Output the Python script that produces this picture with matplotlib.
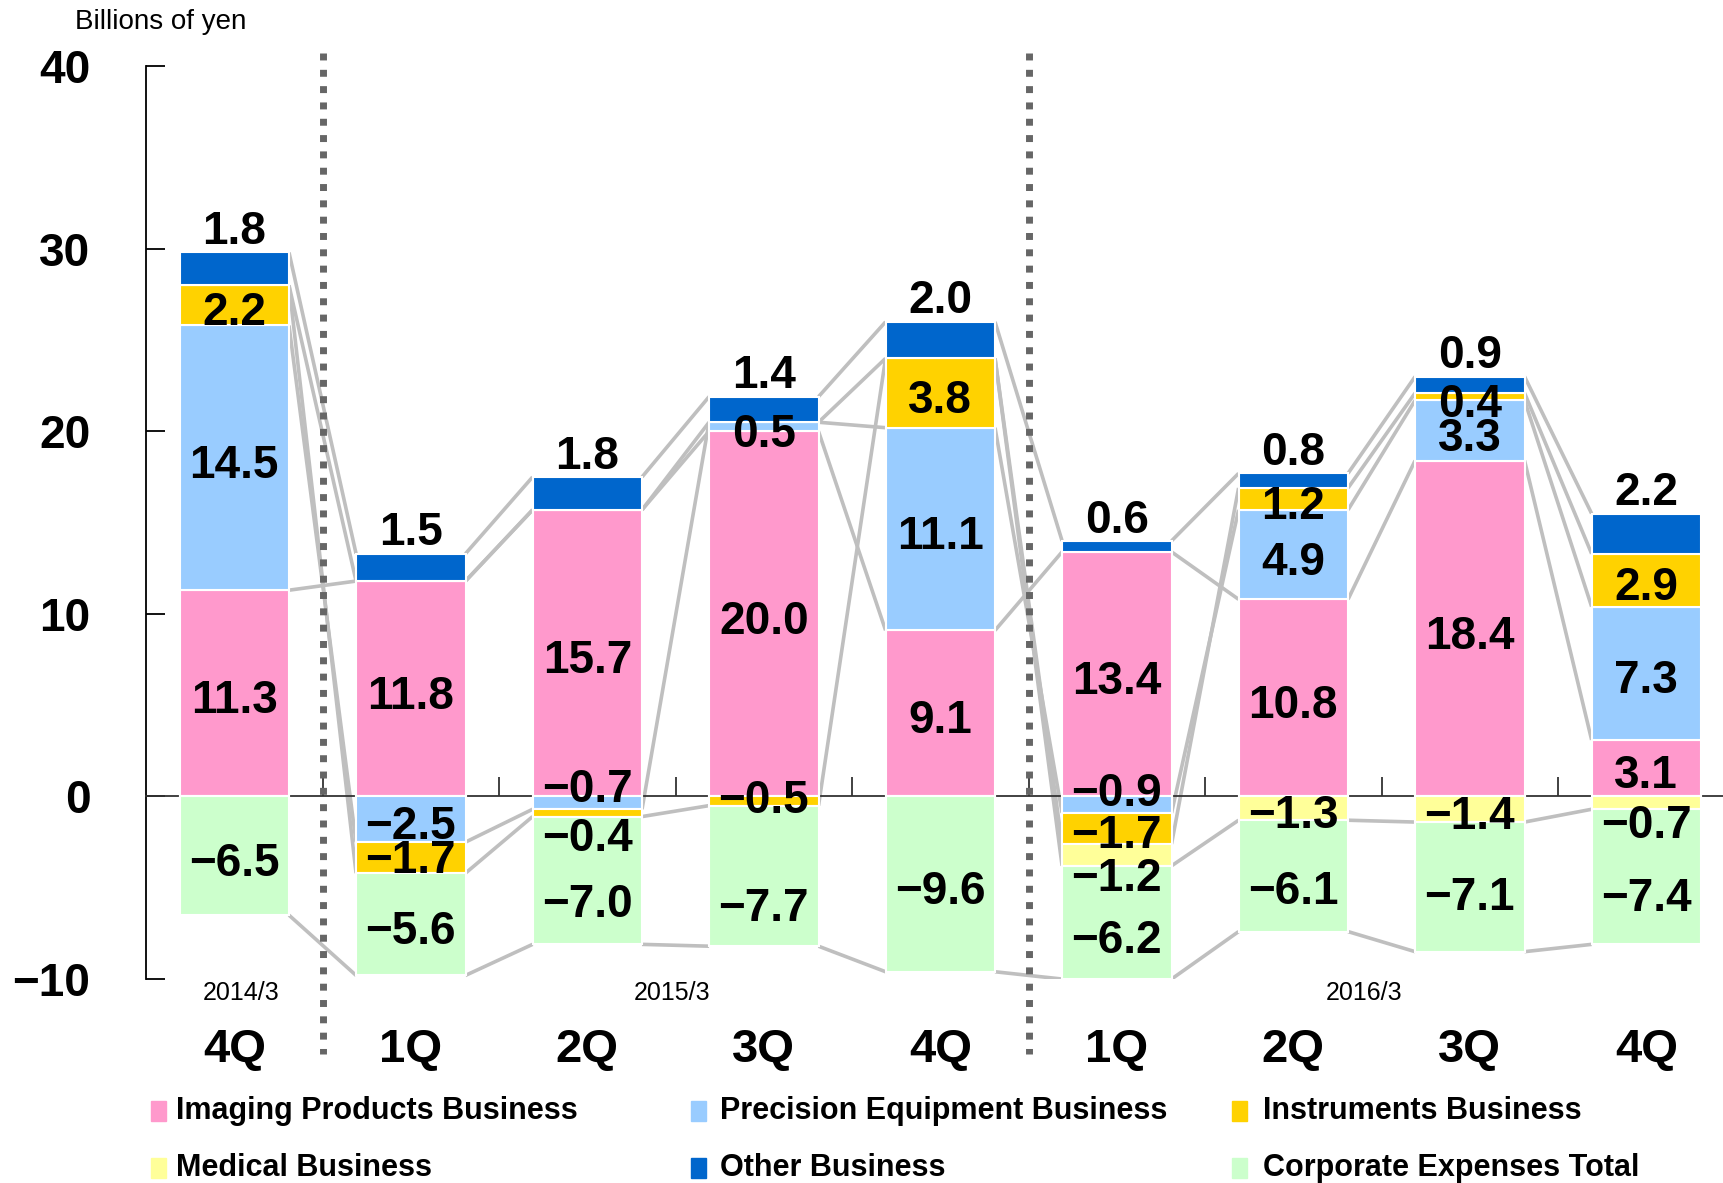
import matplotlib
matplotlib.use('Agg')
import matplotlib.pyplot as plt
from matplotlib.patches import Rectangle
import numpy as np

plt.rcParams.update({
    'font.family': ['Liberation Sans', 'DejaVu Sans'],
    'axes.unicode_minus': True,
})

# ---- data (billions of yen) ----
quarters = ['4Q', '1Q', '2Q', '3Q', '4Q', '1Q', '2Q', '3Q', '4Q']
years = ['2014/3', '2015/3', '2016/3']
year_groups = [[0], [1, 2, 3, 4], [5, 6, 7, 8]]

series_names = ['Imaging Products Business', 'Precision Equipment Business',
                'Instruments Business', 'Medical Business', 'Other Business',
                'Corporate Expenses Total']
imaging = [11.3, 11.8, 15.7, 20.0, 9.1, 13.4, 10.8, 18.4, 3.1]
precision = [14.5, -2.5, -0.7, 0.5, 11.1, -0.9, 4.9, 3.3, 7.3]
instruments = [2.2, -1.7, -0.4, -0.5, 3.8, -1.7, 1.2, 0.4, 2.9]
medical = [0.0, 0.0, 0.0, 0.0, 0.0, -1.2, -1.3, -1.4, -0.7]
other = [1.8, 1.5, 1.8, 1.4, 2.0, 0.6, 0.8, 0.9, 2.2]
corporate = [-6.5, -5.6, -7.0, -7.7, -9.6, -6.2, -6.1, -7.1, -7.4]

colors = ['#FF99CC', '#99CCFF', '#FFD200', '#FFFF99', '#0066CC', '#CCFFCC']

# label nudges (data units) where the labels were moved by hand
label_shift = {
    (1, 2): 0.95, (2, 2): -1.2, (1, 5): 0.85, (3, 5): -1.1, (3, 8): -1.05,
    (2, 3): 0.25, (2, 1): 0.05,
    (5, 2): -1.1, (5, 3): -1.55, (5, 5): -0.8, (5, 6): -0.65,
    (5, 7): -0.35, (5, 8): -1.0,
}
year_shift = [0.04, -0.02, -0.1]

values = np.array([imaging, precision, instruments, medical, other, corporate])
n = values.shape[1]
x = np.arange(n)
W = 0.62

fig = plt.figure(figsize=(17.24, 11.83), dpi=100)
ax = fig.add_axes([0.0847, 0.1724, 0.9153, 0.7716])
ax.set_xlim(-0.5, 8.44)
ax.set_ylim(-10, 40)

pos = np.zeros(n)
neg = np.zeros(n)
ends = np.zeros_like(values)
bottoms = np.zeros_like(values)
for s, vals in enumerate(values):
    b = np.where(vals >= 0, pos, neg)
    ax.bar(x, vals, W, bottom=b, color=colors[s], edgecolor='white',
           linewidth=1.5, zorder=3)
    bottoms[s] = b
    ends[s] = b + vals
    pos = np.where(vals >= 0, pos + vals, pos)
    neg = np.where(vals < 0, neg + vals, neg)

# series lines between neighbouring bars
for s in range(values.shape[0]):
    for i in range(n - 1):
        ax.plot([x[i] + W / 2, x[i + 1] - W / 2], [ends[s, i], ends[s, i + 1]],
                color='#BFBFBF', lw=2.6, zorder=2, solid_capstyle='butt')

LBL = 33
def vtext(xp, yp, txt, size, weight='bold'):
    ax.annotate(txt, (xp, yp), xytext=(0, -0.358 * size), textcoords='offset points',
                ha='center', va='baseline', fontsize=size, fontweight=weight,
                zorder=6, annotation_clip=False)

for s in range(values.shape[0]):
    for i in range(n):
        v = values[s, i]
        if v == 0:
            continue
        txt = f'{v:.1f}'.replace('-', '\u2212')
        if s == 4:
            ax.annotate(txt, (x[i], ends[s, i]), xytext=(0, 6), textcoords='offset points',
                        ha='center', va='baseline', fontsize=LBL, fontweight='bold', zorder=6)
            continue
        yc = bottoms[s, i] + v / 2 + label_shift.get((s, i), -0.2)
        vtext(x[i], yc, txt, LBL)

# axes styling
for sp in ['top', 'right']:
    ax.spines[sp].set_visible(False)
ax.spines['left'].set_linewidth(1.3)
ax.spines['left'].set_bounds(-10, 40)
ax.spines['bottom'].set_position(('data', 0))
ax.spines['bottom'].set_linewidth(1.3)
ax.spines['bottom'].set_color('#333333')
ax.set_yticks([-10, 0, 10, 20, 30, 40])
ax.set_yticklabels(['\u221210', '0', '10', '20', '30', '40'])
ax.tick_params(axis='y', direction='in', length=14, width=1.3, pad=40,
               labelsize=33)
for t in ax.get_yticklabels():
    t.set_fontweight('bold')
ax.set_xticks(np.arange(0.5, n - 0.5, 1.0))
ax.set_xticklabels([])
ax.tick_params(axis='x', direction='in', length=14, width=1.3, color='#333333')

# period separators
for xs in [0.5, 4.5]:
    ax.plot([xs, xs], [40.7, -14.1], color='#666666', lw=5,
            linestyle=(0, (1.0, 1.35)), clip_on=False, zorder=5)

# category labels
for i, q in enumerate(quarters):
    vtext(x[i], -13.6, q, 34)
for yr, grp, dx in zip(years, year_groups, year_shift):
    ax.annotate(yr, (np.mean(x[grp]) + dx, -10.65),
                xytext=(0, -0.358 * 18), textcoords='offset points',
                ha='center', va='baseline', fontsize=18, annotation_clip=False)

fig.text(0.0435, 0.981, 'Billions of yen', fontsize=20, ha='left', va='center')

# legend grid
leg_cols = [(151, 176), (691, 720), (1232, 1263)]
leg_rows = [1111, 1168]
W_FIG, H_FIG = 1724, 1183
leg_order = [[0, 1, 2], [3, 4, 5]]
for r, row in enumerate(leg_order):
    for c, s in enumerate(row):
        mx, tx = leg_cols[c]
        yy = leg_rows[r]
        fig.patches.append(Rectangle((mx / W_FIG, 1 - (yy + 10) / H_FIG), 15 / W_FIG, 20 / H_FIG,
                                     transform=fig.transFigure, color=colors[s]))
        fig.text(tx / W_FIG, 1 - yy / H_FIG, series_names[s], fontsize=22,
                 fontweight='bold', ha='left', va='center')

fig.savefig('out.png', dpi=100)
